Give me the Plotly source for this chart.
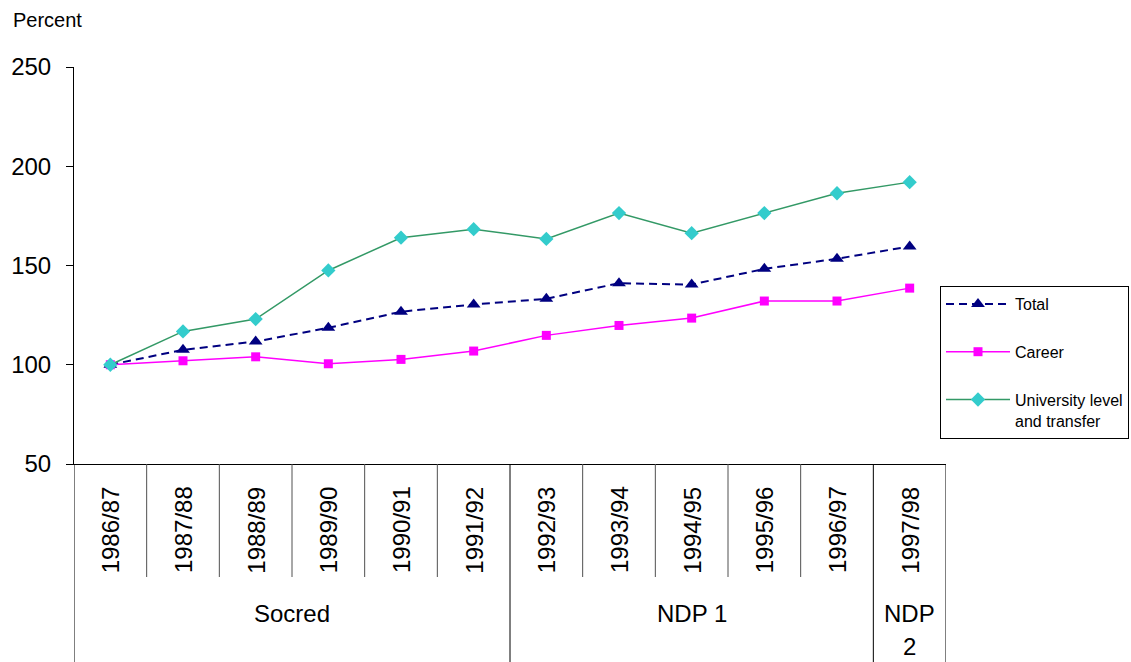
import plotly.graph_objects as go

# School years and governing party periods
years = ["1986/87", "1987/88", "1988/89", "1989/90", "1990/91", "1991/92",
         "1992/93", "1993/94", "1994/95", "1995/96", "1996/97", "1997/98"]
periods = ["Socred", "NDP 1", "NDP\n2"]
period_spans = [(0, 5), (6, 10), (11, 11)]

# Enrolment index, 1986/87 = 100
total = [100, 107.5, 111.7, 118.6, 126.7, 130.4, 133.2, 141.1, 140.4, 148.3, 153.4, 159.6]
career = [100, 102.0, 104.0, 100.5, 102.7, 106.9, 114.8, 119.8, 123.5, 132.1, 132.1, 138.6]
university = [100, 116.8, 123.0, 147.5, 164.0, 168.3, 163.4, 176.4, 166.3, 176.4, 186.4, 192.0]

y_ticks = [50, 100, 150, 200, 250]

FONT = "Liberation Sans, Arial, sans-serif"
W, H = 1131, 662
ML, MR, MT, MB = 74, 185, 67, 198
PLOT_H = H - MT - MB


def py(px):
    """Pixel row -> paper y coordinate."""
    return (H - MB - px) / PLOT_H


fig = go.Figure()

fig.add_trace(go.Scatter(
    x=years, y=total, name="Total", mode="lines+markers",
    line=dict(color="#000080", width=2, dash="8px,5px"),
    marker=dict(symbol="triangle-up", size=12, color="#000080"),
    legendgroup="a",
))
fig.add_trace(go.Scatter(
    x=years, y=career, name="Career", mode="lines+markers",
    line=dict(color="#FF00FF", width=1.5),
    marker=dict(symbol="square", size=9, color="#FF00FF"),
    legendgroup="b",
))
fig.add_trace(go.Scatter(
    x=years, y=university, name="University level<br>and transfer",
    mode="lines+markers",
    line=dict(color="#339966", width=1.5),
    marker=dict(symbol="diamond", size=11, color="#33CCCC"),
    legendgroup="c",
))

shapes = []
n = len(years)
group_edges = {s for s, _ in period_spans} | {e + 1 for _, e in period_spans}
for i in range(n + 1):
    if i in group_edges:
        continue
    shapes.append(dict(type="line", xref="x", yref="paper",
                       x0=i - 0.5, x1=i - 0.5, y0=0, y1=py(577),
                       line=dict(color="#505050", width=1)))
for i in sorted(group_edges):
    shapes.append(dict(type="line", xref="x", yref="paper",
                       x0=i - 0.5, x1=i - 0.5, y0=0, y1=py(H),
                       line=dict(color="#000000", width=1)))

annotations = []
for i, yr in enumerate(years):
    annotations.append(dict(
        x=i, y=py(530), xref="x", yref="paper", text=yr, showarrow=False,
        textangle=-90, xanchor="center", yanchor="middle",
        font=dict(family=FONT, size=24, color="black"),
    ))
for label, (s, e) in zip(periods, period_spans):
    lines = label.split("\n")
    if len(lines) == 1:
        annotations.append(dict(
            x=(s + e) / 2, y=py(613), xref="x", yref="paper", text=label,
            showarrow=False, xanchor="center", yanchor="middle",
            font=dict(family=FONT, size=24, color="black"),
        ))
    else:
        for ln, row in zip(lines, (613, 646)):
            annotations.append(dict(
                x=(s + e) / 2, y=py(row), xref="x", yref="paper", text=ln,
                showarrow=False, xanchor="center", yanchor="middle",
                font=dict(family=FONT, size=24, color="black"),
            ))

annotations.append(dict(
    x=(11 - ML) / (W - ML - MR), y=py(20), xref="paper", yref="paper",
    text="Percent", showarrow=False, xanchor="left", yanchor="middle",
    font=dict(family=FONT, size=20, color="black"),
))

fig.update_layout(
    width=W, height=H,
    margin=dict(l=ML, r=MR, t=MT, b=MB, pad=0, autoexpand=False),
    paper_bgcolor="white", plot_bgcolor="white",
    font=dict(family=FONT, color="black"),
    showlegend=True,
    legend=dict(
        x=(940 - ML) / (W - ML - MR), y=py(286),
        xanchor="left", yanchor="top",
        bordercolor="black", borderwidth=1, bgcolor="white",
        font=dict(family=FONT, size=16, color="black"),
        itemwidth=64, tracegroupgap=24, valign="top",
        traceorder="grouped",
    ),
    xaxis=dict(
        type="category", range=[-0.5, n - 0.5], automargin=False,
        showticklabels=False, ticks="", showgrid=False, zeroline=False,
        showline=True, linecolor="black", linewidth=1,
    ),
    yaxis=dict(
        range=[50, 250], tickvals=y_ticks, showgrid=False, zeroline=False,
        automargin=False,
        showline=True, linecolor="black", linewidth=1,
        ticks="outside", ticklen=7, tickcolor="black",
        ticklabelstandoff=10,
        tickfont=dict(family=FONT, size=24, color="black"),
    ),
    shapes=shapes,
    annotations=annotations,
)

fig.write_html("out.html")
